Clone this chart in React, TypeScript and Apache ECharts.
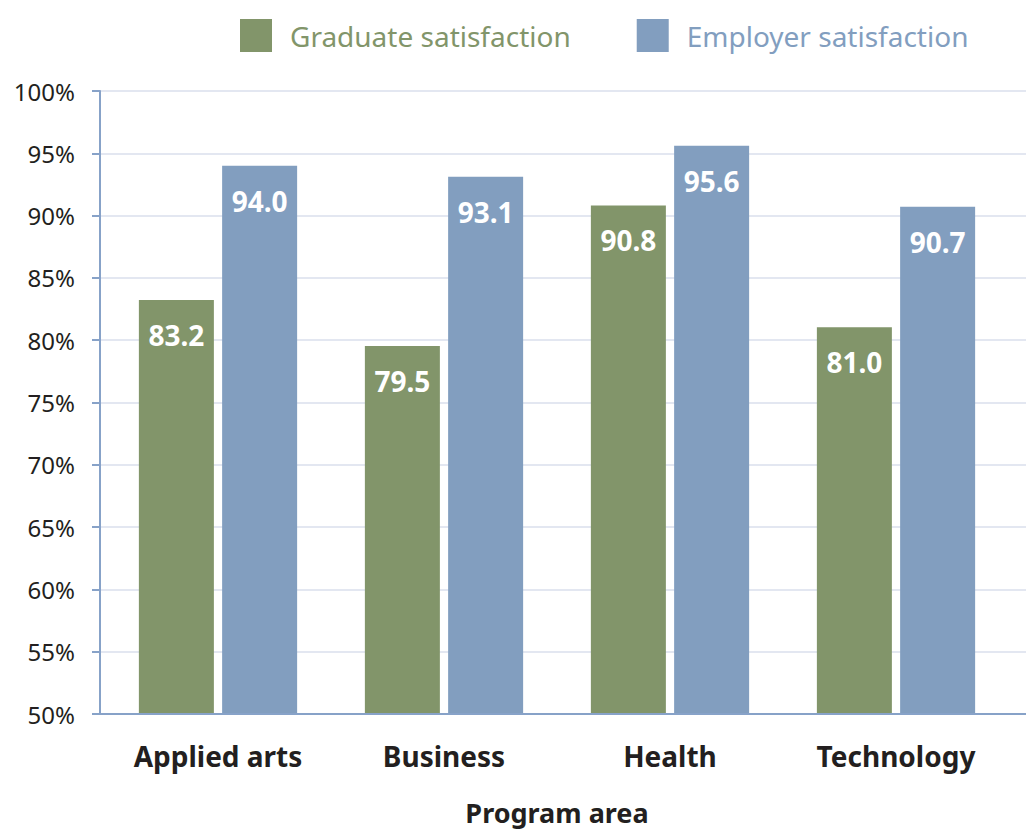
import React, { useEffect, useRef } from "react";
import * as echarts from "echarts";

const categories = ["Applied arts", "Business", "Health", "Technology"];
const graduateValues = [83.2, 79.5, 90.8, 81.0];
const employerValues = [94.0, 93.1, 95.6, 90.7];
const seriesNames = ["Graduate satisfaction", "Employer satisfaction"];
const yMin = 50;
const yMax = 100;
const yStep = 5;

const GREEN = "#82956a";
const BLUE = "#829ebf";
const AXIS = "#87a2c8";
const TEXT = "#231f20";
const FONT = "'Noto Sans', 'Open Sans', sans-serif";

export default function App() {
  const ref = useRef<HTMLDivElement>(null);
  useEffect(() => {
    if (!ref.current) return;
    const chart = echarts.init(ref.current, undefined, { renderer: "svg" });
    const label = {
      show: true,
      position: "insideTop",
      distance: 21,
      color: "#ffffff",
      fontSize: 28,
      fontWeight: "bold",
      fontFamily: FONT,
      formatter: (p: any) => Number(p.value).toFixed(1),
    };
    chart.setOption({
      animation: false,
      textStyle: { fontFamily: FONT },
      legend: {
        top: 14,
        left: 235,
        itemWidth: 32,
        itemHeight: 33,
        itemGap: 66,
        icon: "rect",
        data: [
          { name: seriesNames[0], textStyle: { color: GREEN } },
          { name: seriesNames[1], textStyle: { color: BLUE } },
        ],
        textStyle: { fontSize: 28, fontFamily: FONT, padding: [0, 0, 0, 13] },
      },
      grid: [
        { left: 100, right: 0, top: 91, bottom: 117, containLabel: false },
        { left: 105, right: 17, top: 91, bottom: 117, containLabel: false },
      ],
      xAxis: [
        {
          type: "category",
          gridIndex: 0,
          data: categories,
          axisLine: { show: true, lineStyle: { color: AXIS, width: 2 } },
          axisTick: { show: false },
          axisLabel: { show: false },
        },
        {
          type: "category",
          gridIndex: 1,
          data: categories,
          name: "Program area",
          nameLocation: "middle",
          nameGap: 86,
          nameTextStyle: { fontSize: 27, fontWeight: "bold", color: TEXT, fontFamily: FONT },
          axisLine: { show: false },
          axisTick: { show: false },
          axisLabel: { margin: 29, fontSize: 28, fontWeight: "bold", color: TEXT, fontFamily: FONT },
        },
      ],
      yAxis: [
        {
          type: "value",
          gridIndex: 0,
          min: yMin,
          max: yMax,
          interval: yStep,
          axisLine: { show: true, lineStyle: { color: AXIS, width: 2 } },
          axisTick: { show: true, length: 8, lineStyle: { color: AXIS, width: 2 } },
          axisLabel: { margin: 25, fontSize: 24, color: TEXT, fontFamily: FONT, formatter: "{value}%" },
          splitLine: { show: true, lineStyle: { color: "#e3e7f1", width: 2 } },
        },
        {
          type: "value",
          gridIndex: 1,
          min: yMin,
          max: yMax,
          interval: yStep,
          show: false,
          splitLine: { show: false },
        },
      ],
      series: [
        {
          name: seriesNames[0],
          type: "bar",
          xAxisIndex: 1,
          yAxisIndex: 1,
          data: graduateValues,
          barWidth: 75,
          barGap: "11%",
          itemStyle: { color: GREEN },
          label,
        },
        {
          name: seriesNames[1],
          type: "bar",
          xAxisIndex: 1,
          yAxisIndex: 1,
          data: employerValues,
          barWidth: 75,
          barGap: "11%",
          itemStyle: { color: BLUE },
          label,
        },
      ],
    });
    return () => chart.dispose();
  }, []);
  return (
    <div
      ref={ref}
      style={{ position: "absolute", left: 0, top: 0, width: 1026, height: 831, background: "#fff" }}
    />
  );
}
